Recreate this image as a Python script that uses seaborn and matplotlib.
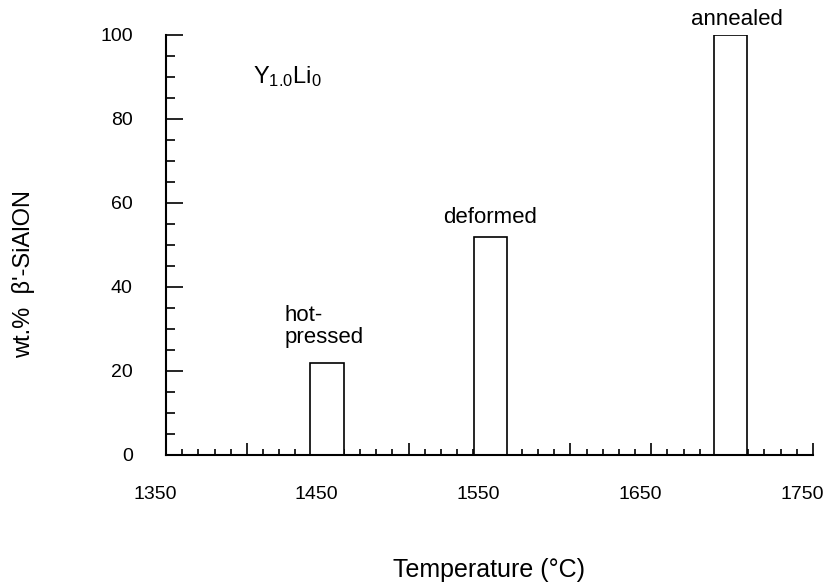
import matplotlib
matplotlib.use("Agg")
import matplotlib.pyplot as plt
import matplotlib.transforms as mtransforms
import seaborn as sns
import pandas as pd
from matplotlib.ticker import MultipleLocator, FixedLocator

# ---- data ----
conditions = ["hot-pressed", "deformed", "annealed"]
temperatures = [1449.5, 1550.5, 1699]   # deg C (bar centres)
wt_pct = [22, 52, 100]                  # wt.% beta'-SiAlON
x_ticks = [1350, 1450, 1550, 1650, 1750]
y_ticks = [0, 20, 40, 60, 80, 100]

df = pd.DataFrame({"T": temperatures, "wt": wt_pct, "cond": conditions})

sns.set_style("ticks")
plt.rcParams["font.family"] = ["Liberation Sans", "DejaVu Sans"]
plt.rcParams.update({
    "text.color": "black", "axes.labelcolor": "black",
    "xtick.color": "black", "ytick.color": "black",
    "axes.edgecolor": "black",
})

fig = plt.figure(figsize=(8.3, 5.88), dpi=100)
ax = fig.add_axes([0.2, 0.2262, 0.7795, 0.7143])

bar_w = 20.5
min_gap = min(b - a for a, b in zip(sorted(temperatures)[:-1], sorted(temperatures)[1:]))
sns.barplot(data=df, x="T", y="wt", native_scale=True, width=bar_w / min_gap,
            color="white", edgecolor="black", linewidth=1.2, saturation=1,
            errorbar=None, ax=ax)

ax.set_xlim(1350, 1750)
ax.set_ylim(0, 100)
ax.xaxis.set_major_locator(FixedLocator(list(range(1350, 1751, 50))))
ax.set_xticklabels([str(v) if v in x_ticks else "" for v in range(1350, 1751, 50)])
ax.xaxis.set_minor_locator(MultipleLocator(10))
ax.set_yticks(y_ticks)
ax.yaxis.set_minor_locator(MultipleLocator(5))

for s in ["top", "right"]:
    ax.spines[s].set_visible(False)
for s in ["left", "bottom"]:
    ax.spines[s].set_linewidth(1.5)
    ax.spines[s].set_color("black")

ax.tick_params(axis="x", which="major", direction="in", length=8.5, width=1.2,
               pad=22, labelsize=14)
ax.tick_params(axis="x", which="minor", direction="in", length=4.5, width=1.2)
ax.tick_params(axis="y", which="major", direction="in", length=12, width=1.2,
               pad=24, labelsize=14)
ax.tick_params(axis="y", which="minor", direction="in", length=6.5, width=1.2)

# shift x tick labels slightly left as in the reference
offset = mtransforms.ScaledTranslation(-11 / 100, 0, fig.dpi_scale_trans)
for lbl in ax.get_xticklabels():
    lbl.set_transform(lbl.get_transform() + offset)

ax.set_xlabel("Temperature (°C)", fontsize=18)
ax.set_ylabel("wt.%  β'-SiAlON", fontsize=17)
ax.xaxis.set_label_coords(0.5, -0.245)
ax.yaxis.set_label_coords(-0.203, 0.43)

ax.text(1404, 90, r"$\mathregular{Y_{1.0}Li_{0}}$", fontsize=17, ha="left", va="center")
ax.text(1423, 25.5, "hot-\npressed", fontsize=16, ha="left", va="bottom",
        multialignment="left", linespacing=1.05)
ax.text(1550.5, 55.2, "deformed", fontsize=16, ha="center", va="baseline")
ax.text(1703, 102.4, "annealed", fontsize=16, ha="center", va="baseline", clip_on=False)

fig.savefig("out.png", dpi=100)
